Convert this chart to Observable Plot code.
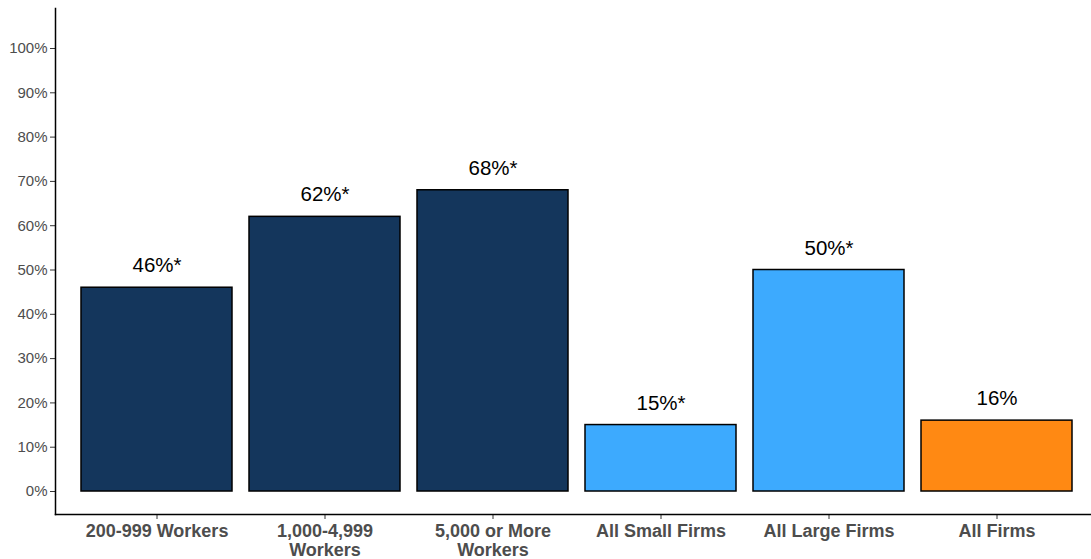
<!DOCTYPE html>
<html>
<head>
<meta charset="utf-8">
<script src="https://cdn.jsdelivr.net/npm/d3@7"></script>
<script src="https://cdn.jsdelivr.net/npm/@observablehq/plot@0.6"></script>
<style>
  html, body { margin: 0; padding: 0; background: #fff; }
  #chart svg { display: block; }
</style>
</head>
<body>
<div id="chart"></div>
<script>
const categories = ["200-999 Workers", "1,000-4,999\nWorkers", "5,000 or More\nWorkers", "All Small Firms", "All Large Firms", "All Firms"];
const values = [0.46, 0.62, 0.68, 0.15, 0.50, 0.16];
const valueLabels = ["46%*", "62%*", "68%*", "15%*", "50%*", "16%"];
const groups = ["size", "size", "size", "summary", "summary", "all"];
const groupColors = {size: "#14365C", summary: "#3DAAFE", all: "#FF8913"};
const yTicks = [0, 0.1, 0.2, 0.3, 0.4, 0.5, 0.6, 0.7, 0.8, 0.9, 1.0];

const data = categories.map((c, i) => ({cat: c, value: values[i], label: valueLabels[i], group: groups[i]}));

const chart = Plot.plot({
  width: 1091,
  height: 559,
  marginLeft: 55,
  marginRight: 0,
  marginTop: 8,
  marginBottom: 45,
  style: {fontFamily: "'Liberation Sans', Arial, sans-serif", background: "#fff"},
  x: {domain: categories, range: [55, 1098.5], paddingInner: 0.1, paddingOuter: 0.15, label: null},
  y: {domain: [-0.0519, 1.0903], label: null},
  color: {domain: Object.keys(groupColors), range: Object.values(groupColors)},
  marks: [
    Plot.barY(data, {x: "cat", y1: 0, y2: "value", fill: "group", stroke: "#000", strokeWidth: 1.5}),
    Plot.text(data, {x: "cat", y: "value", text: "label", dy: -22, fontSize: 20.5, fill: "#000", lineAnchor: "middle"}),
    Plot.axisY(yTicks, {tickFormat: d => Math.round(d * 100) + "%", tickSize: 5, tickPadding: 3, fontSize: 15, color: "#4d4d4d", stroke: "#333", strokeWidth: 1, label: null}),
    Plot.axisX({tickSize: 5, tickPadding: 4, fontSize: 18, fontWeight: "bold", fill: "#4d4d4d", stroke: "#333", label: null, lineHeight: 1.05}),
    Plot.frame({anchor: "left", stroke: "#000", strokeWidth: 1.5}),
    Plot.frame({anchor: "bottom", stroke: "#000", strokeWidth: 1.5})
  ]
});
document.getElementById("chart").appendChild(chart);
</script>
</body>
</html>
